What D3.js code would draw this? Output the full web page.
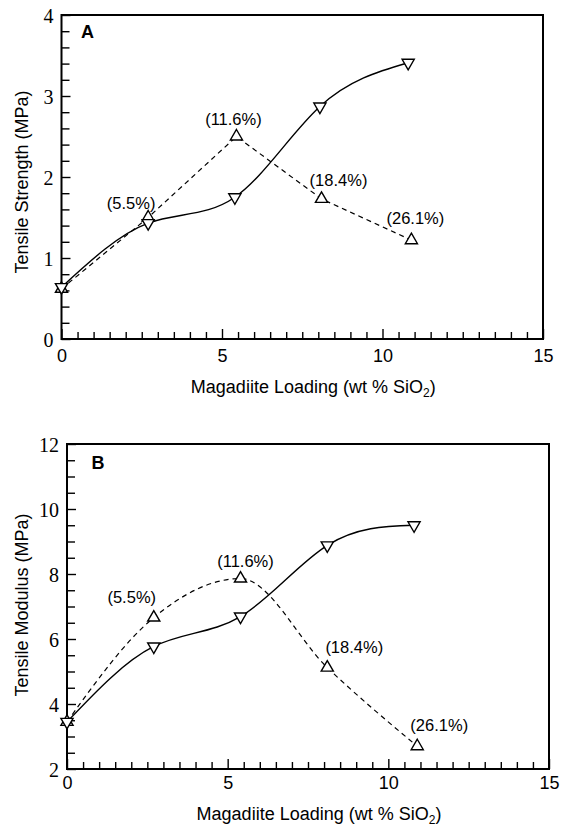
<!DOCTYPE html>
<html>
<head>
<meta charset="utf-8">
<script src="https://cdn.jsdelivr.net/npm/d3@7"></script>
<style>
  html, body { margin: 0; padding: 0; background: #fff; }
  svg { display: block; }
</style>
</head>
<body>
<script>
// ---- data ----
var pctLabels = ["(5.5%)", "(11.6%)", "(18.4%)", "(26.1%)"];

// panel A : tensile strength (MPa)
var strengthSolidX  = [0, 2.7, 5.4, 8.05, 10.8];
var strengthSolidY  = [0.64, 1.43, 1.75, 2.87, 3.41];
var strengthDashedX = [0, 2.7, 5.45, 8.1, 10.9];
var strengthDashedY = [0.62, 1.5, 2.5, 1.73, 1.22];

// panel B : tensile modulus (MPa)
var modulusSolidX  = [0, 2.7, 5.4, 8.1, 10.8];
var modulusSolidY  = [3.45, 5.77, 6.69, 8.88, 9.5];
var modulusDashedX = [0, 2.7, 5.4, 8.1, 10.9];
var modulusDashedY = [3.45, 6.66, 7.86, 5.12, 2.7];

var xTicks = [0, 5, 10, 15];
var strengthTicks = [0, 1, 2, 3, 4];
var modulusTicks = [2, 4, 6, 8, 10, 12];

var W = 566, H = 827;
var sans = "'Liberation Sans', Arial, Helvetica, sans-serif";
var serif = "'Liberation Serif', 'Times New Roman', serif";

var svg = d3.select("body").append("svg")
    .attr("width", W)
    .attr("height", H);

var panels = [
  {
    tag: "A", title: "Tensile Strength (MPa)",
    left: 61.5, right: 543, top: 15, bottom: 339,
    yDomain: [0, 4], yTicks: strengthTicks, yMinorStep: 0.2,
    solid: d3.zip(strengthSolidX, strengthSolidY),
    dashed: d3.zip(strengthDashedX, strengthDashedY),
    dashedCurve: d3.curveLinear,
    labelOff: [[-17, -14], [-3, -17.5], [17, -19], [4, -22]],
    tagPos: [26, 17], xLabelDy: 17, titleY: 387, yTitleY: 182
  },
  {
    tag: "B", title: "Tensile Modulus (MPa)",
    left: 67, right: 549, top: 444, bottom: 769,
    yDomain: [2, 12], yTicks: modulusTicks, yMinorStep: 0.5,
    solid: d3.zip(modulusSolidX, modulusSolidY),
    dashed: d3.zip(modulusDashedX, modulusDashedY),
    dashedCurve: d3.curveMonotoneX,
    labelOff: [[-22, -20], [5, -17.5], [27, -20], [22, -21]],
    tagPos: [31, 19], xLabelDy: 14, titleY: 814, yTitleY: 605
  }
];

var tri = d3.symbol().type(d3.symbolTriangle).size(64);

panels.forEach(function(p) {
  var x = d3.scaleLinear().domain([0, 15]).range([p.left, p.right]);
  var y = d3.scaleLinear().domain(p.yDomain).range([p.bottom, p.top]);
  var g = svg.append("g");

  var xMinor = d3.range(0, 15.01, 0.5).filter(function(v) { return xTicks.indexOf(v) < 0 });
  var yMinor = d3.range(p.yDomain[0], p.yDomain[1] + 0.001, p.yMinorStep)
      .map(function(v) { return +v.toFixed(2) })
      .filter(function(v) { return p.yTicks.indexOf(v) < 0 });

  // inward ticks on the bottom and left
  g.append("g").attr("transform", "translate(0," + p.bottom + ")")
    .call(d3.axisBottom(x).tickValues(xMinor).tickSize(-7).tickFormat(""));
  g.append("g").attr("transform", "translate(0," + p.bottom + ")")
    .call(d3.axisBottom(x).tickValues(xTicks).tickSize(-10).tickFormat(d3.format("d")))
    .call(function(a) {
      a.selectAll("text").attr("y", p.xLabelDy).attr("dy", "0.35em")
        .style("font-family", sans).style("font-size", "18px").attr("fill", "#000");
    });
  g.append("g").attr("transform", "translate(" + p.left + ",0)")
    .call(d3.axisLeft(y).tickValues(yMinor).tickSize(-8).tickFormat(""));
  g.append("g").attr("transform", "translate(" + p.left + ",0)")
    .call(d3.axisLeft(y).tickValues(p.yTicks).tickSize(-9).tickFormat(d3.format("d")))
    .call(function(a) {
      a.selectAll("text").attr("x", -8).attr("dy", "0.36em")
        .style("font-family", serif).style("font-size", "20px").attr("fill", "#000");
    });
  g.selectAll(".domain").remove();
  g.selectAll(".tick line").attr("stroke", "#000").attr("stroke-width", 1.4);

  // frame
  g.append("rect")
    .attr("x", p.left).attr("y", p.top)
    .attr("width", p.right - p.left).attr("height", p.bottom - p.top)
    .attr("fill", "none").attr("stroke", "#000").attr("stroke-width", 2);

  var line = d3.line()
    .x(function(d) { return x(d[0]) })
    .y(function(d) { return y(d[1]) });

  g.append("path").datum(p.dashed)
    .attr("d", line.curve(p.dashedCurve)).attr("fill", "none").attr("stroke", "#000")
    .attr("stroke-width", 1.2).attr("stroke-dasharray", "5,4");
  g.append("path").datum(p.solid)
    .attr("d", line.curve(d3.curveNatural)).attr("fill", "none").attr("stroke", "#000")
    .attr("stroke-width", 1.4);

  g.selectAll(".up").data(p.dashed).enter().append("path")
    .attr("d", tri)
    .attr("transform", function(d) { return "translate(" + x(d[0]) + "," + y(d[1]) + ")" })
    .attr("fill", "#fff").attr("stroke", "#000").attr("stroke-width", 1.4);
  g.selectAll(".down").data(p.solid).enter().append("path")
    .attr("d", tri)
    .attr("transform", function(d) { return "translate(" + x(d[0]) + "," + y(d[1]) + ") rotate(180)" })
    .attr("fill", "#fff").attr("stroke", "#000").attr("stroke-width", 1.4);

  // loading labels next to the dashed points (skip the x = 0 point)
  g.selectAll(".pct").data(pctLabels).enter().append("text")
    .attr("x", function(d, i) { return x(p.dashed[i + 1][0]) + p.labelOff[i][0] })
    .attr("y", function(d, i) { return y(p.dashed[i + 1][1]) + p.labelOff[i][1] })
    .attr("dy", "0.35em")
    .attr("text-anchor", "middle")
    .style("font-family", sans).style("font-size", "16.5px")
    .text(function(d) { return d });

  g.append("text")
    .attr("x", p.left + p.tagPos[0]).attr("y", p.top + p.tagPos[1]).attr("dy", "0.35em")
    .attr("text-anchor", "middle")
    .style("font-family", sans).style("font-size", "18px").style("font-weight", "bold")
    .text(p.tag);

  g.append("text")
    .attr("transform", "translate(22," + p.yTitleY + ") rotate(-90)")
    .attr("text-anchor", "middle").attr("dy", "0.35em")
    .style("font-family", sans).style("font-size", "18px")
    .text(p.title);

  var xt = g.append("text")
    .attr("x", (p.left + p.right) / 2 + 11).attr("y", p.titleY).attr("dy", "0.35em")
    .attr("text-anchor", "middle")
    .style("font-family", sans).style("font-size", "18px");
  xt.append("tspan").text("Magadiite Loading (wt % SiO");
  xt.append("tspan").attr("dy", 4).style("font-size", "12px").text("2");
  xt.append("tspan").attr("dy", -4).text(")");
});
</script>
</body>
</html>
